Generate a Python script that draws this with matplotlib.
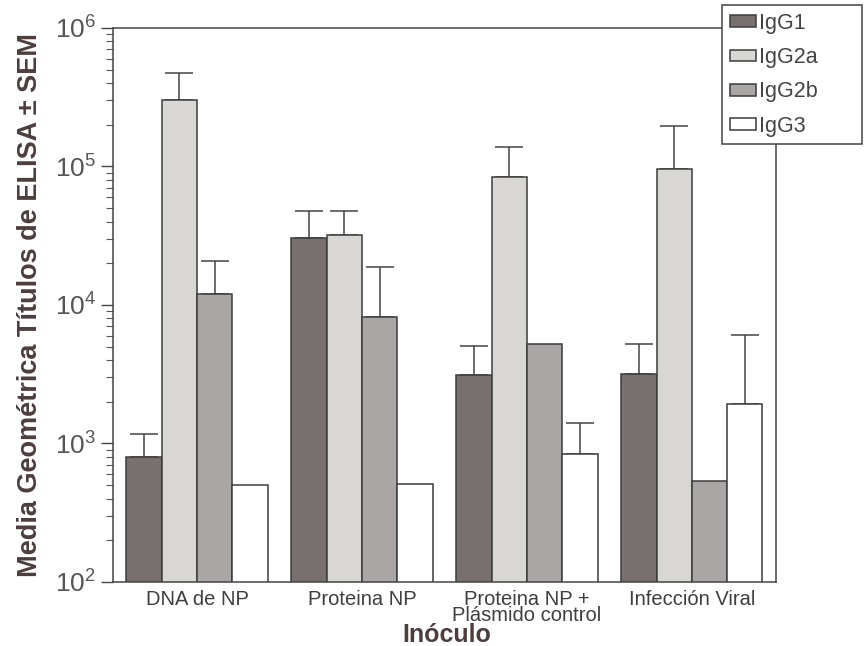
import numpy as np
import matplotlib.pyplot as plt
from matplotlib.ticker import LogLocator, NullFormatter

plt.rcParams['font.family'] = ['Liberation Sans', 'DejaVu Sans']
plt.rcParams['mathtext.default'] = 'regular'

# ---------------------- data --------------------------------------------#
categories = ["DNA de NP", "Proteina NP", "Proteina NP +\nPlásmido control", "Infección Viral"]
series = ["IgG1", "IgG2a", "IgG2b", "IgG3"]

igg1 = [800, 30700, 3130, 3180]
igg2a = [302000, 32000, 84000, 96000]
igg2b = [12000, 8200, 5200, 536]
igg3 = [501, 509, 840, 1930]

# upper end of the SEM bar, None where no bar is drawn
igg1_sem = [1170, 47700, 5060, 5200]
igg2a_sem = [473000, 47700, 138000, 196000]
igg2b_sem = [20800, 18700, None, None]
igg3_sem = [None, None, 1410, 6070]

values = [igg1, igg2a, igg2b, igg3]
sems = [igg1_sem, igg2a_sem, igg2b_sem, igg3_sem]
colors = ['#77706f', '#d9d7d3', '#aaa6a5', '#ffffff']

# ---------------------- figure ------------------------#
fig = plt.figure(figsize=(8.67, 6.46), dpi=100)
ax = fig.add_axes([0.1303, 0.0991, 0.7647, 0.8576])

x = np.arange(len(categories))
width = 0.214
edge = '#3c3c3c'

for i, (vals, sem, col) in enumerate(zip(values, sems, colors)):
    pos = x + (i - 1.5) * width
    ax.bar(pos, vals, width, color=col, edgecolor=edge, linewidth=1.1,
           label=series[i], zorder=2)
    # only the upper half of the error bar
    for p, v, s in zip(pos, vals, sem):
        if s is None:
            continue
        ax.errorbar(p, v, yerr=[[0], [s - v]], fmt='none', ecolor='#444444',
                    elinewidth=1.1, capsize=10, capthick=1.1, zorder=1)

ax.set_yscale('log')
ax.set_ylim(100, 1e6)
ax.set_xlim(-0.51, 3.51)

ax.yaxis.set_major_locator(LogLocator(base=10, numticks=10))
ax.yaxis.set_minor_locator(LogLocator(base=10, subs=np.arange(2, 10), numticks=10))
ax.yaxis.set_minor_formatter(NullFormatter())
ax.tick_params(axis='y', which='major', length=9, width=1, color='#444444',
               labelsize=19, labelcolor='#555555', pad=3)
ax.tick_params(axis='y', which='minor', length=5, width=0.8, color='#555555')

ax.set_xticks(x)
ax.set_xticklabels(categories, fontsize=14.5, color='#3f3f3f', linespacing=0.78)
ax.tick_params(axis='x', length=0, pad=6)

for sp in ax.spines.values():
    sp.set_color('#444444')
    sp.set_linewidth(1.1)

# axis titles placed by hand, like in the scanned figure
fig.text(30 / 867, 1 - 305 / 646, 'Media Geométrica Títulos de ELISA ± SEM',
         rotation=90, ha='center', va='center', fontsize=19.5,
         fontweight='bold', color='#4d3e3e')
fig.text(447 / 867, 1 - 635 / 646, 'Inóculo', ha='center', va='center',
         fontsize=18, fontweight='bold', color='#4d3e3e')

leg = fig.legend(loc='upper left', bbox_to_anchor=(0.833, 0.771, 0.161, 0.221),
                 mode='expand', fontsize=15.5, frameon=True, fancybox=False,
                 edgecolor='#444444', framealpha=1, borderpad=0.35,
                 labelspacing=0.62, handlelength=1.2, handleheight=0.45,
                 handletextpad=0.15, borderaxespad=0)
leg.get_frame().set_linewidth(1.1)
for t in leg.get_texts():
    t.set_color('#444444')

fig.savefig('out.png', dpi=100)
